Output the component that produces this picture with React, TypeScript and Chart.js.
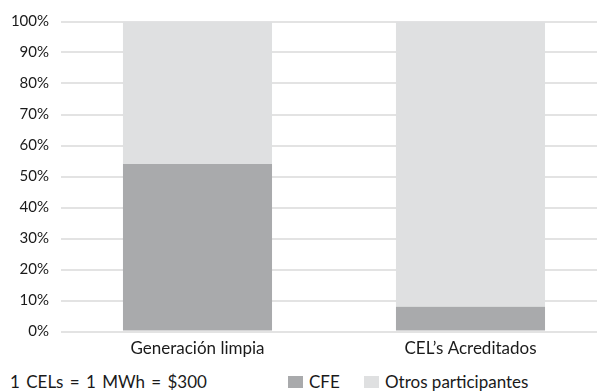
import React, { useEffect, useRef } from "react";
import { Chart, registerables } from "chart.js";

Chart.register(...registerables);

const categories = ["Generación limpia", "CEL\u2019s Acreditados"];
const seriesNames = ["CFE", "Otros participantes"];
const cfeValues = [54, 8];
const otrosValues = [46, 92];
const yTicks = [0, 10, 20, 30, 40, 50, 60, 70, 80, 90, 100];
const footnote = "1 CELs = 1 MWh = $300";
const colors = ["#a9aaac", "#dfe0e1"];

const FONT = "Lato, 'Open Sans', sans-serif";

export default function App() {
  const ref = useRef<HTMLCanvasElement | null>(null);

  useEffect(() => {
    if (!ref.current) return;
    const chart = new Chart(ref.current, {
      type: "bar",
      data: {
        labels: categories,
        datasets: [
          {
            label: seriesNames[0],
            data: cfeValues,
            backgroundColor: colors[0],
            barPercentage: 0.546,
            categoryPercentage: 1,
          },
          {
            label: seriesNames[1],
            data: otrosValues,
            backgroundColor: colors[1],
            barPercentage: 0.546,
            categoryPercentage: 1,
          },
        ],
      },
      options: {
        animation: false,
        responsive: false,
        maintainAspectRatio: false,
        layout: { padding: { top: 21.5, right: 3, left: 0, bottom: 0 } },
        plugins: { legend: { display: false }, tooltip: { enabled: false } },
        scales: {
          x: {
            stacked: true,
            grid: { display: false, drawTicks: false },
            border: { display: false },
            ticks: {
              color: "#1a1a1a",
              font: { family: FONT, size: 17 },
              padding: 7,
            },
            afterFit: (s: any) => {
              s.height = 28.5;
            },
          },
          y: {
            stacked: true,
            min: 0,
            max: 100,
            afterBuildTicks: (s: any) => {
              s.ticks = yTicks.map((v) => ({ value: v }));
            },
            grid: { color: "#e3e3e3", lineWidth: 2, drawTicks: false },
            border: { display: false },
            ticks: {
              color: "#1a1a1a",
              font: { family: FONT, size: 15 },
              padding: 12,
              callback: (v: any) => v + "%",
            },
            afterFit: (s: any) => {
              s.width = 61;
            },
          },
        },
      },
    });
    return () => chart.destroy();
  }, []);

  return (
    <div
      style={{
        position: "absolute",
        left: 0,
        top: 0,
        width: 597,
        height: 392,
        overflow: "hidden",
        background: "#fff",
        fontFamily: FONT,
        color: "#1a1a1a",
      }}
    >
      <canvas ref={ref} width={610} height={360} style={{ position: "absolute", left: 0, top: 0 }} />
      <div style={{ position: "absolute", left: 10, top: 372, fontSize: 17, lineHeight: "20px", whiteSpace: "nowrap", wordSpacing: 2 }}>
        {footnote}
      </div>
      {seriesNames.map((n, i) => (
        <div
          key={n}
          style={{
            position: "absolute",
            left: i === 0 ? 288 : 364,
            top: 372,
            display: "flex",
            alignItems: "center",
            fontSize: 17,
            lineHeight: "20px",
            whiteSpace: "nowrap",
          }}
        >
          <span style={{ display: "inline-block", width: 15, height: 12, background: colors[i], marginRight: 6 }} />
          {n}
        </div>
      ))}
    </div>
  );
}
